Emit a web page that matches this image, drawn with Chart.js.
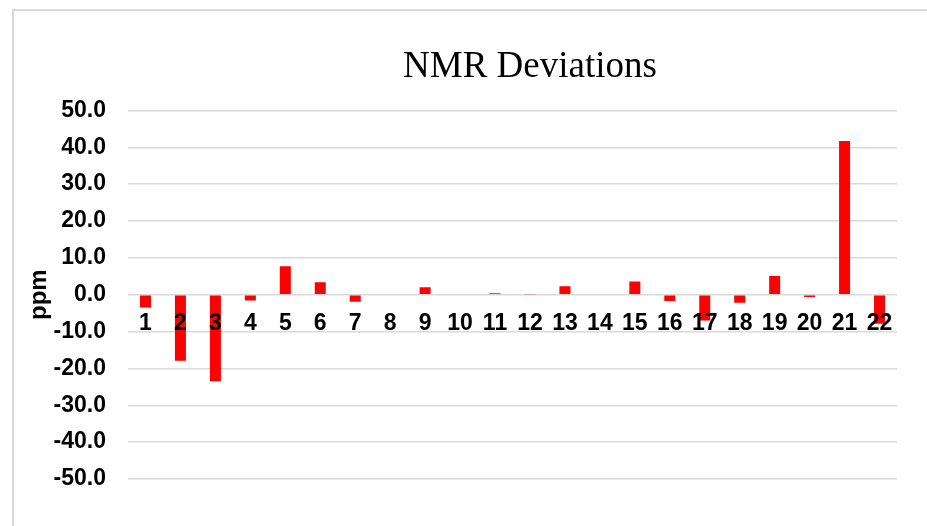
<!DOCTYPE html>
<html>
<head>
<meta charset="utf-8">
<script src="https://cdn.jsdelivr.net/npm/chart.js@4"></script>
<style>
  html, body { margin: 0; padding: 0; background: #fff; overflow: hidden; width: 927px; height: 526px; }
  #frame {
    position: absolute; left: 12px; top: 9px;
    width: 1032px; height: 540px;
    border: 2px solid #d9d9d9;
  }
  #frame canvas { display: block; }
</style>
</head>
<body>
<div id="frame"><canvas id="nmr" width="1032" height="540"></canvas></div>
<script>
// peak number on the x axis
const peaks = ["1", "2", "3", "4", "5", "6", "7", "8", "9", "10", "11",
               "12", "13", "14", "15", "16", "17", "18", "19", "20", "21", "22"];

// deviation in ppm
const deviations = [-3.5, -17.9, -23.5, -1.6, 7.7, 3.4, -1.9, 0.2, 2.0, 0.2, 0.4,
                    0.1, 2.3, 0.0, 3.6, -1.7, -7.0, -2.2, 5.1, -0.6, 41.7, -7.9];

const yMin = -50;
const yMax = 50;
const yStep = 10;

const boldFont = "'Liberation Sans', Arial, sans-serif";

new Chart(document.getElementById("nmr"), {
    type: "bar",
    data: {
        labels: peaks,
        datasets: [
            {
                label: "Deviation",
                data: deviations,
                backgroundColor: "#ff0000",
                barPercentage: 0.315,
                categoryPercentage: 1.0
            }
        ]
    },
    options: {
        responsive: false,
        animation: false,
        layout: { padding: { left: 0, right: 0, top: 0, bottom: 72 } },
        plugins: {
            legend: { display: false },
            tooltip: { enabled: false },
            title: {
                display: true,
                text: "NMR Deviations",
                color: "#000",
                font: { family: "'Liberation Serif', 'Times New Roman', serif", size: 37, weight: "normal" },
                padding: { top: 34, bottom: 21 }
            }
        },
        scales: {
            x: {
                position: { y: 0 },
                grid: { display: false, drawTicks: false },
                border: { display: false },
                ticks: {
                    z: 1,
                    color: "#000",
                    padding: 15,
                    maxRotation: 0,
                    autoSkip: false,
                    font: { family: boldFont, size: 23, weight: "bold" }
                }
            },
            y: {
                min: yMin,
                max: yMax,
                afterFit: (scale) => { scale.width = 114; },
                grid: { color: "#d9d9d9", lineWidth: 1.5, drawTicks: false },
                border: { display: false },
                ticks: {
                    stepSize: yStep,
                    color: "#000",
                    padding: 22,
                    font: { family: boldFont, size: 23, weight: "bold" },
                    callback: (v) => v.toFixed(1)
                },
                title: {
                    display: true,
                    text: "ppm",
                    color: "#000",
                    padding: { top: 11, bottom: 0 },
                    font: { family: boldFont, size: 24, weight: "bold" }
                }
            },
            // empty right-hand band of the cropped chart box
            spacer: {
                type: "linear",
                position: "right",
                min: yMin,
                max: yMax,
                afterFit: (scale) => { scale.width = 149; },
                grid: { display: false },
                border: { display: false },
                ticks: { display: false }
            }
        }
    }
});
</script>
</body>
</html>
